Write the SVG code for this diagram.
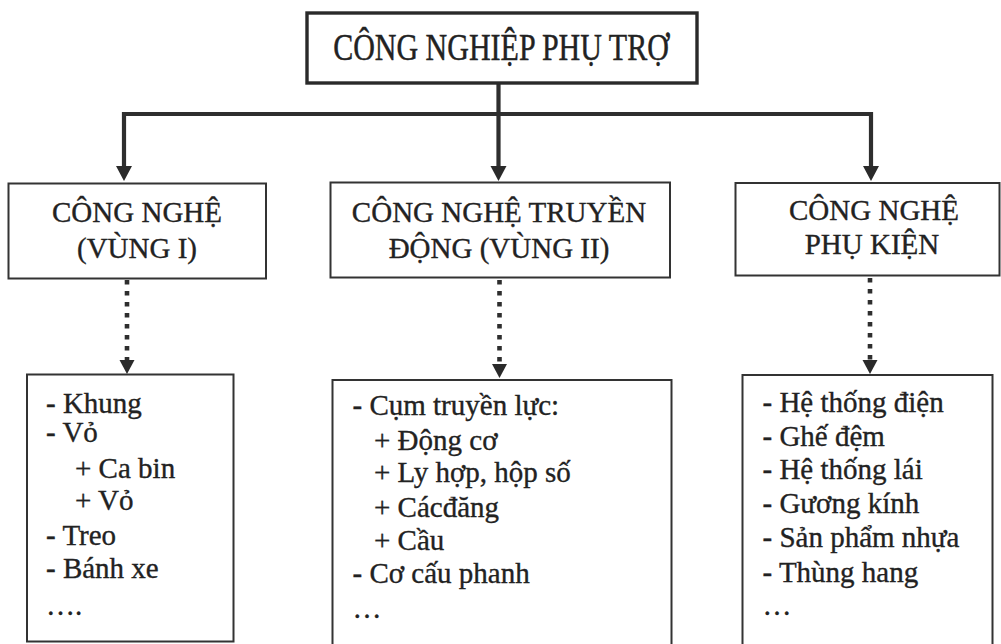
<svg xmlns="http://www.w3.org/2000/svg" width="1001" height="644" viewBox="0 0 1001 644">
<style>
  text { font-family: "Liberation Serif", "Times New Roman", serif; fill: #222; stroke: #222; stroke-width: 0.35; }
  .t { font-size: 30px; text-anchor: middle; }
  .h { font-size: 29px; text-anchor: middle; }
  .l { font-size: 29px; }
  .box { fill: #fff; stroke: #333; stroke-width: 2; }
  .main { fill: #fff; stroke: #2a2a2a; stroke-width: 3.4; }
  .solid { fill: none; stroke: #2e2e2e; stroke-width: 4.2; }
  .dot { fill: none; stroke: #2e2e2e; stroke-width: 4.6; stroke-dasharray: 4.5 6.5; }
  .head { fill: #2a2a2a; }
</style>
<rect width="1001" height="644" fill="#fff"/>

<g id="connectors">
  <path class="solid" d="M498.5 83 V168 M124 114 H871 M124 112 V168 M871 112 V168"/>
  <polygon class="head" points="116,166 132,166 124,181"/>
  <polygon class="head" points="490.5,166 506.5,166 498.5,181"/>
  <polygon class="head" points="863,166 879,166 871,181"/>
  <path class="dot" d="M127 280 V362"/>
  <path class="dot" d="M499.5 280 V366"/>
  <path class="dot" d="M870 278 V362"/>
  <polygon class="head" points="119.5,360 134.5,360 127,374"/>
  <polygon class="head" points="492,364 507,364 499.5,378"/>
  <polygon class="head" points="862.5,360 877.5,360 870,374"/>
</g>

<g id="root">
  <rect class="main" x="307" y="13" width="390" height="70"/>
  <text class="t" transform="translate(501 59.5) scale(1 1.28)">CÔNG NGHIỆP PHỤ TRỢ</text>
</g>

<g id="cn-vung1">
  <rect class="box" x="8.5" y="183.5" width="257.5" height="95"/>
  <text class="h" x="137" y="222">CÔNG NGHỆ</text>
  <text class="h" x="137" y="258">(VÙNG I)</text>
</g>

<g id="cn-truyen-dong">
  <rect class="box" x="330.5" y="182.5" width="339.5" height="95"/>
  <text class="h" x="499" y="222">CÔNG NGHỆ TRUYỀN</text>
  <text class="h" x="499" y="258">ĐỘNG (VÙNG II)</text>
</g>

<g id="cn-phu-kien">
  <rect class="box" x="735.5" y="183" width="264" height="92.5"/>
  <text class="h" x="874" y="220">CÔNG NGHỆ</text>
  <text class="h" x="872" y="253.5">PHỤ KIỆN</text>
</g>

<g id="list-vung1">
  <rect class="box" x="27" y="374.5" width="206.5" height="267"/>
  <text class="l" x="46" y="413">- Khung</text>
  <text class="l" x="46" y="442">- Vỏ</text>
  <text class="l" x="75" y="478">+ Ca bin</text>
  <text class="l" x="75" y="510">+ Vỏ</text>
  <text class="l" x="46" y="545">- Treo</text>
  <text class="l" x="46" y="578">- Bánh xe</text>
  <text class="l" x="46" y="615">….</text>
</g>

<g id="list-truyen-dong">
  <rect class="box" x="332.5" y="380" width="339" height="290"/>
  <text class="l" x="352.5" y="415">- Cụm truyền lực:</text>
  <text class="l" x="374" y="450">+ Động cơ</text>
  <text class="l" x="374" y="482">+ Ly hợp, hộp số</text>
  <text class="l" x="374" y="517">+ Cácđăng</text>
  <text class="l" x="374" y="550">+ Cầu</text>
  <text class="l" x="352.5" y="583">- Cơ cấu phanh</text>
  <text class="l" x="352.5" y="618">…</text>
</g>

<g id="list-phu-kien">
  <rect class="box" x="742.5" y="375" width="250" height="290"/>
  <text class="l" x="762.5" y="412">- Hệ thống điện</text>
  <text class="l" x="762.5" y="446">- Ghế đệm</text>
  <text class="l" x="762.5" y="479">- Hệ thống lái</text>
  <text class="l" x="762.5" y="513">- Gương kính</text>
  <text class="l" x="762.5" y="547">- Sản phẩm nhựa</text>
  <text class="l" x="762.5" y="582">- Thùng hang</text>
  <text class="l" x="762.5" y="615">…</text>
</g>
</svg>
